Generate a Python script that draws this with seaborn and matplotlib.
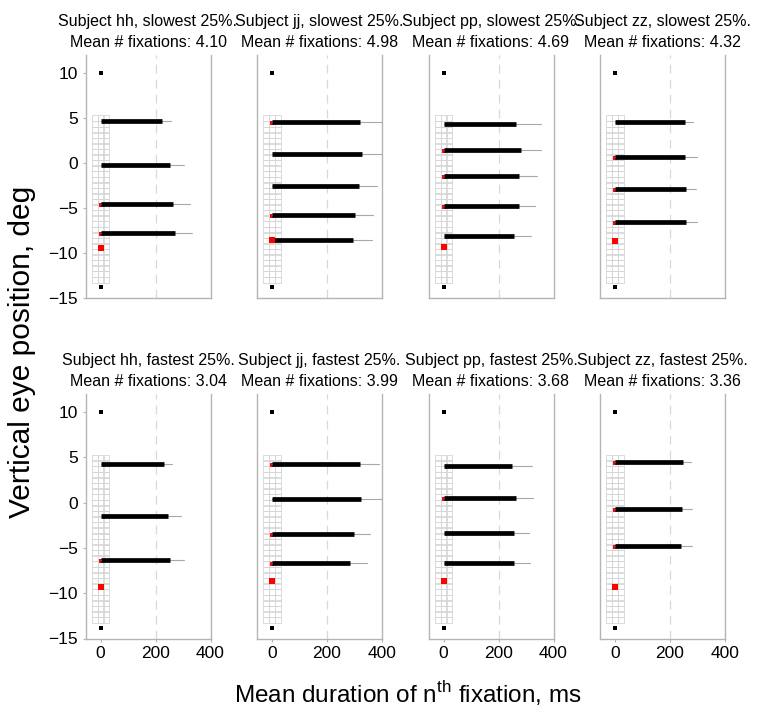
import numpy as np
import pandas as pd
import seaborn as sns
import matplotlib.pyplot as plt

# === Data ===
subjects = ["hh", "jj", "pp", "zz"]
speeds = ["slowest", "fastest"]
mean_fix_slow = [4.10, 4.98, 4.69, 4.32]
mean_fix_fast = [3.04, 3.99, 3.68, 3.36]

# fixation rows: vertical position (deg), mean duration (ms), upper error (ms)
y_slow = [[4.67, -0.26, -4.5, -7.8],
          [4.56, 1.0, -2.6, -5.8, -8.6],
          [4.33, 1.5, -1.4, -4.8, -8.1],
          [4.6, 0.63, -2.9, -6.5]]
dur_slow = [[225, 251, 265, 269],
            [321, 328, 316, 300, 294],
            [263, 282, 275, 275, 258],
            [254, 254, 257, 257]]
err_slow = [[258, 302, 324, 331],
            [400, 402, 381, 366, 363],
            [354, 353, 340, 334, 319],
            [285, 299, 294, 299]]

y_fast = [[4.32, -1.46, -6.3],
          [4.29, 0.42, -3.45, -6.7],
          [4.1, 0.57, -3.33, -6.7],
          [4.47, -0.65, -4.8]]
dur_fast = [[229, 245, 251],
            [319, 322, 298, 285],
            [250, 263, 256, 258],
            [248, 243, 240]]
err_fast = [[261, 293, 303],
            [390, 400, 358, 345],
            [323, 325, 309, 314],
            [275, 281, 281]]

# target (red) position and rows with a red marker under the bar start
target_slow = [-9.4, -8.6, -9.3, -8.7]
target_fast = [-9.3, -8.7, -8.7, -9.3]
red_rows_slow = [[2, 3], [0, 3, 4], [1, 2, 3], [1, 2, 3]]
red_rows_fast = [[2], [0, 2, 3], [1], [0, 1, 2]]

# black reference markers
marker_y = [10, -13.8]

# stimulus grid
grid_cols = [-20.7, 0, 20.7]
grid_rows = np.linspace(4.95, -12.95, 30)

# === Style ===
sns.set_style("white")
plt.rcParams['font.family'] = ['Liberation Sans', 'DejaVu Sans']
plt.rcParams['text.color'] = 'black'
plt.rcParams['axes.labelcolor'] = 'black'
plt.rcParams['mathtext.fontset'] = 'custom'
plt.rcParams['mathtext.rm'] = 'Liberation Sans'

fig = plt.figure(figsize=(7.63, 7.24), dpi=100)

lefts = [85.5, 257, 428.5, 600]
rows_geom = [(298, 243), (638.5, 244.5)]  # bottom px, height px
W, H = 763, 724

gx, gy = np.meshgrid(grid_cols, grid_rows)
grid_df = pd.DataFrame({"x": gx.ravel(), "y": gy.ravel()})

all_data = {
    "slowest": (mean_fix_slow, y_slow, dur_slow, err_slow, target_slow, red_rows_slow),
    "fastest": (mean_fix_fast, y_fast, dur_fast, err_fast, target_fast, red_rows_fast),
}

for r, speed in enumerate(speeds):
    mfix, ys, durs, errs, targ, reds = all_data[speed]
    bottom, height = rows_geom[r]
    for c, subj in enumerate(subjects):
        ax = fig.add_axes([lefts[c] / W, 1 - bottom / H, 125 / W, height / H])

        sns.scatterplot(data=grid_df, x="x", y="y", marker="s", s=19, color="none",
                        edgecolor="#d6d6d6", linewidth=0.6, ax=ax, zorder=1)

        ax.axvline(200, color="#d8d8d8", ls=(0, (7, 5)), lw=0.9, zorder=0)

        rows = pd.DataFrame({"y": ys[c], "dur": durs[c], "err": errs[c]})
        rows["bar"] = range(len(rows))
        red = rows.loc[reds[c]]
        sns.scatterplot(x=[0] * len(red), y=red["y"] - 0.12, marker="s", s=9, color="#e01010",
                        linewidth=0, ax=ax, zorder=2)

        thin = pd.concat([rows.assign(x=0), rows.assign(x=rows["err"])])
        thick = pd.concat([rows.assign(x=0), rows.assign(x=rows["dur"])])
        sns.lineplot(data=thin, x="x", y="y", units="bar", estimator=None, sort=False,
                     color="#a8a8a8", lw=0.8, ax=ax, zorder=3)
        sns.lineplot(data=thick, x="x", y="y", units="bar", estimator=None, sort=False,
                     color="black", lw=3.4, ax=ax, zorder=4, solid_capstyle="butt")

        sns.scatterplot(x=[0], y=[targ[c]], marker="s", s=20, color="red", linewidth=0,
                        ax=ax, zorder=5)
        sns.scatterplot(x=[0, 0], y=marker_y, marker="s", s=8, color="black", linewidth=0,
                        ax=ax, zorder=5)

        ax.set_xlim(-55, 400)
        ax.set_ylim(-15, 12)
        ax.set_xlabel("")
        ax.set_ylabel("")
        ax.set_xticks([0, 200, 400])
        ax.set_yticks([10, 5, 0, -5, -10, -15])
        ax.spines["top"].set_visible(False)
        for s in ["left", "right", "bottom"]:
            ax.spines[s].set_color("#b4b4b4")
            ax.spines[s].set_linewidth(1.0)
        ax.tick_params(axis="both", labelsize=12.5, colors="#b4b4b4", labelcolor="black",
                       length=2.5, width=0.8, pad=3)
        ax.tick_params(axis="y", left=(c == 0), labelleft=(c == 0))
        ax.tick_params(axis="x", bottom=(r == 1), labelbottom=(r == 1))

        ax.set_title(f"Subject {subj}, {speed} 25%.\nMean # fixations: {mfix[c]:.2f}",
                     fontsize=11.5, pad=6, linespacing=1.45)

fig.text(22 / W, 1 - 352 / H, "Vertical eye position, deg", rotation=90,
         ha="center", va="center", fontsize=21.5)
fig.text(408 / W, 1 - 694 / H, r"Mean duration of n$^{\mathrm{th}}$ fixation, ms",
         ha="center", va="center", fontsize=17.5)

fig.savefig("out.png", dpi=100)
